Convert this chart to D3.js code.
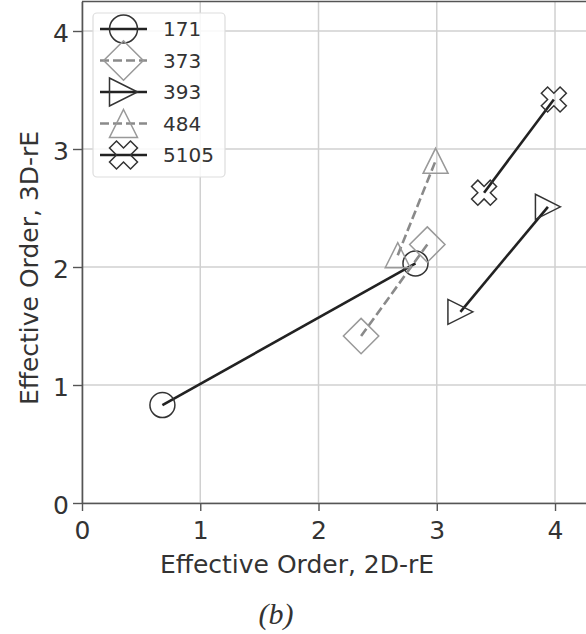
<!DOCTYPE html>
<html>
<head>
<meta charset="utf-8">
<script src="https://cdn.jsdelivr.net/npm/d3@7"></script>
<style>
  body { margin: 0; background: #fff; }
  text { font-family: "DejaVu Sans", sans-serif; fill: #333; }
</style>
</head>
<body>
<svg id="chart" width="586" height="634"></svg>
<script>
// Effective order, 2D-rE vs 3D-rE

var names = ["171", "373", "393", "484", "5105"];
var x2d = [[0.68, 2.82], [2.36, 2.92], [3.20, 3.94], [2.67, 2.99], [3.40, 3.99]];
var y3d = [[0.83, 2.03], [1.415, 2.19], [1.62, 2.51], [2.10, 2.90], [2.63, 3.42]];
var xTicks = [0, 1, 2, 3, 4];
var yTicks = [0, 1, 2, 3, 4];

var shapes = ["circle", "diamond", "right", "up", "xfill"];
var dark = "#222", grey = "#8a8a8a";
var styles = [
  {line: dark, edge: "#333", dash: null},
  {line: grey, edge: "#999", dash: "9,4"},
  {line: dark, edge: "#333", dash: null},
  {line: grey, edge: "#999", dash: "9,4"},
  {line: dark, edge: "#333", dash: null}
];

var svg = d3.select("#chart");
var x = d3.scaleLinear().domain([0, 4.3]).range([82, 590.5]);
var y = d3.scaleLinear().domain([0, 4.25]).range([503, 1.5]);

// marker path for size s (px), centered at 0,0
var markerPath = function (shape, s) {
  var h = s / 2;
  if (shape === "circle")
    return d3.arc()({innerRadius: 0, outerRadius: h, startAngle: 0, endAngle: 2 * Math.PI});
  if (shape === "diamond") {
    var d = s * Math.SQRT1_2;
    return "M0," + (-d) + "L" + d + ",0L0," + d + "L" + (-d) + ",0Z";
  }
  if (shape === "up")
    return "M0," + (-h) + "L" + h + "," + h + "L" + (-h) + "," + h + "Z";
  if (shape === "right")
    return "M" + h + ",0L" + (-h) + "," + (-h) + "L" + (-h) + "," + h + "Z";
  // filled X: a plus rotated by 45 degrees
  var c = Math.SQRT1_2, k = h / (4 * c);
  var pts = [[-1, -3], [1, -3], [1, -1], [3, -1], [3, 1], [1, 1], [1, 3], [-1, 3], [-1, 1], [-3, 1], [-3, -1], [-1, -1]];
  return "M" + pts.map(function (p) {
    var px = p[0] * k, py = p[1] * k;
    return [(px - py) * c, (px + py) * c].map(function (v) { return v.toFixed(2); }).join(",");
  }).join("L") + "Z";
};

// grid
svg.append("g").selectAll("line").data(xTicks).join("line")
  .attr("x1", function (d) { return x(d); }).attr("x2", function (d) { return x(d); })
  .attr("y1", y(4.25)).attr("y2", y(0))
  .attr("stroke", "#d0d0d0").attr("stroke-width", 1.5);
svg.append("g").selectAll("line").data(yTicks).join("line")
  .attr("x1", x(0)).attr("x2", x(4.3))
  .attr("y1", function (d) { return y(d); }).attr("y2", function (d) { return y(d); })
  .attr("stroke", "#d0d0d0").attr("stroke-width", 1.5);

// axes
var xAxis = svg.append("g").attr("transform", "translate(0," + y(0) + ")")
  .call(d3.axisBottom(x).tickValues(xTicks).tickFormat(d3.format("d"))
    .tickSize(8).tickPadding(4).tickSizeOuter(0));
var yAxis = svg.append("g").attr("transform", "translate(" + x(0) + ",0)")
  .call(d3.axisLeft(y).tickValues(yTicks).tickFormat(d3.format("d"))
    .tickSize(9).tickPadding(4).tickSizeOuter(0));
[xAxis, yAxis].forEach(function (g) {
  g.select(".domain").attr("stroke", "#555").attr("stroke-width", 1.6);
  g.selectAll(".tick line").attr("stroke", "#555").attr("stroke-width", 1.4);
  g.selectAll(".tick text").attr("font-size", 25).attr("fill", "#333")
    .style("font-family", "DejaVu Sans, sans-serif");
});
xAxis.selectAll(".tick text").attr("dy", "0.95em");
yAxis.selectAll(".tick text").attr("dy", "0.42em");

// top spine
svg.append("line").attr("x1", x(0)).attr("x2", x(4.3)).attr("y1", y(4.25)).attr("y2", y(4.25))
  .attr("stroke", "#555").attr("stroke-width", 1.6);

// series
var line = d3.line().x(function (p) { return x(p[0]); }).y(function (p) { return y(p[1]); });
names.forEach(function (name, i) {
  var pts = x2d[i].map(function (v, j) { return [v, y3d[i][j]]; });
  var st = styles[i];
  var g = svg.append("g");
  g.append("path").attr("d", line(pts)).attr("fill", "none")
    .attr("stroke", st.line).attr("stroke-width", 2.6)
    .attr("stroke-dasharray", st.dash);
  g.selectAll("path.m").data(pts).join("path").attr("class", "m")
    .attr("transform", function (p) { return "translate(" + x(p[0]) + "," + y(p[1]) + ")"; })
    .attr("d", markerPath(shapes[i], 25))
    .attr("fill", "none").attr("stroke", st.edge).attr("stroke-width", 1.5);
});

// legend
var leg = svg.append("g");
leg.append("rect").attr("x", 93).attr("y", 13).attr("width", 132).attr("height", 164)
  .attr("rx", 4).attr("fill", "rgba(255,255,255,0.85)").attr("stroke", "#ddd").attr("stroke-width", 1.2);
names.forEach(function (name, i) {
  var ly = 29 + i * 31.5, st = styles[i];
  leg.append("line").attr("x1", 100).attr("x2", 147).attr("y1", ly).attr("y2", ly)
    .attr("stroke", st.line).attr("stroke-width", 2.6).attr("stroke-dasharray", st.dash);
  leg.append("path").attr("transform", "translate(123.5," + ly + ")")
    .attr("d", markerPath(shapes[i], 28))
    .attr("fill", "none").attr("stroke", st.edge).attr("stroke-width", 1.5);
  leg.append("text").attr("x", 163).attr("y", ly).attr("dy", "0.36em")
    .attr("font-size", 20).text(name);
});

// axis labels
svg.append("text").attr("x", 297).attr("y", 573).attr("text-anchor", "middle")
  .attr("font-size", 25).text("Effective Order, 2D-rE");
svg.append("text").attr("transform", "translate(38,268) rotate(-90)").attr("text-anchor", "middle")
  .attr("font-size", 25).text("Effective Order, 3D-rE");

// caption
svg.append("text").attr("x", 276).attr("y", 624).attr("text-anchor", "middle")
  .style("font-family", "Liberation Serif, serif").style("font-style", "italic")
  .attr("font-size", 30).attr("fill", "#111").text("(b)");
</script>
</body>
</html>
